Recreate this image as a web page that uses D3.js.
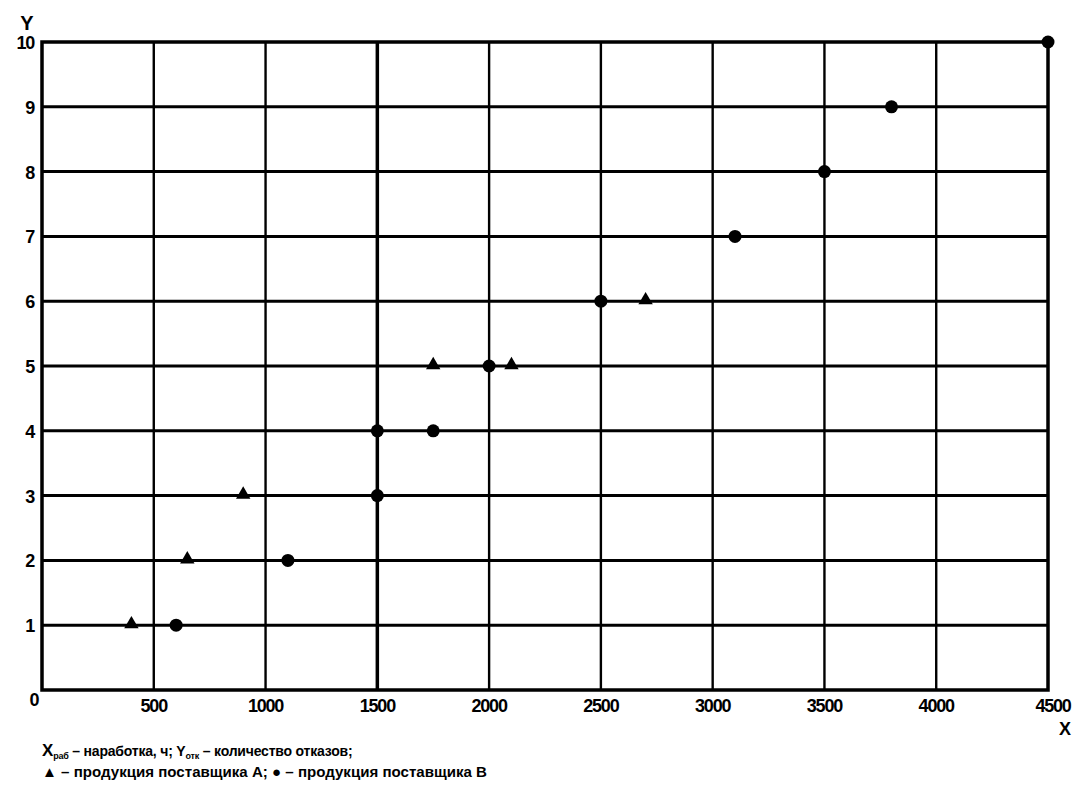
<!DOCTYPE html>
<html>
<head>
<meta charset="utf-8">
<script src="https://cdn.jsdelivr.net/npm/d3@7"></script>
<style>
  html, body { margin: 0; padding: 0; background: #fff; }
  svg { display: block; }
  text { font-family: "Liberation Sans", Arial, sans-serif; font-weight: bold; fill: #000; }
</style>
</head>
<body>
<svg id="chart" width="1076" height="787"></svg>
<script>
const xTicks = [0, 500, 1000, 1500, 2000, 2500, 3000, 3500, 4000, 4500];
const yTicks = [0, 1, 2, 3, 4, 5, 6, 7, 8, 9, 10];

// Supplier A (triangles)
const aHours = [400, 650, 900, 1750, 2100, 2700];
const aFailures = [1, 2, 3, 5, 5, 6];
// Supplier B (circles)
const bHours = [600, 1100, 1500, 1500, 1750, 2000, 2500, 3100, 3500, 3800, 4500];
const bFailures = [1, 2, 3, 4, 4, 5, 6, 7, 8, 9, 10];

const svg = d3.select("#chart");
const pLeft = 42, pRight = 1048, pTop = 42, pBottom = 690;

const x = d3.scaleLinear().domain([0, 4500]).range([pLeft, pRight]);
const y = d3.scaleLinear().domain([0, 10]).range([pBottom, pTop]);

// Grid
const g = svg.append("g");
g.selectAll("line.v").data(xTicks.filter(d => d > 0 && d < 4500)).join("line")
  .attr("x1", d => x(d)).attr("x2", d => x(d))
  .attr("y1", pTop).attr("y2", pBottom)
  .attr("stroke", "#000")
  .attr("stroke-width", d => d === 1500 ? 3.5 : 2.4);
g.selectAll("line.h").data(yTicks.filter(d => d > 0 && d < 10)).join("line")
  .attr("x1", pLeft).attr("x2", pRight)
  .attr("y1", d => y(d)).attr("y2", d => y(d))
  .attr("stroke", "#000").attr("stroke-width", 3);
// Frame
g.append("rect")
  .attr("x", pLeft).attr("y", pTop)
  .attr("width", pRight - pLeft).attr("height", pBottom - pTop)
  .attr("fill", "none").attr("stroke", "#000").attr("stroke-width", 3.5);

// X tick labels
svg.append("g").selectAll("text").data(xTicks).join("text")
  .attr("x", d => d === 0 ? x(d) - 8 : (d === 4500 ? x(d) + 5 : x(d)))
  .attr("y", d => d === 0 ? 706 : 712)
  .attr("text-anchor", "middle")
  .attr("font-size", 18)
  .attr("letter-spacing", -1.2)
  .text(d => d);
svg.append("text").attr("x", x(4500) + 17).attr("y", 735)
  .attr("text-anchor", "middle").attr("font-size", 18).text("X");

// Y tick labels
svg.append("g").selectAll("text").data(yTicks.filter(d => d > 0)).join("text")
  .attr("x", 34)
  .attr("y", d => y(d) + 7)
  .attr("text-anchor", "end")
  .attr("font-size", 18)
  .attr("letter-spacing", -1.2)
  .text(d => d);
svg.append("text").attr("x", 27).attr("y", 30)
  .attr("text-anchor", "middle").attr("font-size", 20).text("Y");

// Points B (circles)
svg.append("g").selectAll("circle").data(bHours.map((h, i) => [h, bFailures[i]])).join("circle")
  .attr("cx", d => x(d[0])).attr("cy", d => y(d[1]))
  .attr("r", 6.5).attr("fill", "#000");

// Points A (triangles)
svg.append("g").selectAll("path").data(aHours.map((h, i) => [h, aFailures[i]])).join("path")
  .attr("d", d3.symbol().type(d3.symbolTriangle).size(90))
  .attr("transform", d => `translate(${x(d[0])},${y(d[1]) - 1})`)
  .attr("fill", "#000");

// Legend text
const leg1 = svg.append("text").attr("x", 42).attr("y", 756).attr("font-size", 14)
  .attr("letter-spacing", -0.2);
leg1.append("tspan").attr("font-size", 17).text("X");
leg1.append("tspan").attr("font-size", 9).attr("dy", 3).text("раб");
leg1.append("tspan").attr("dy", -3).text(" – наработка, ч; Y");
leg1.append("tspan").attr("font-size", 9).attr("dy", 3).text("отк");
leg1.append("tspan").attr("dy", -3).text(" – количество отказов;");

svg.append("text").attr("x", 42).attr("y", 777).attr("font-size", 15)
  .attr("textLength", 445).attr("lengthAdjust", "spacingAndGlyphs")
  .text("▲ – продукция поставщика А; ● – продукция поставщика В");
</script>
</body>
</html>
